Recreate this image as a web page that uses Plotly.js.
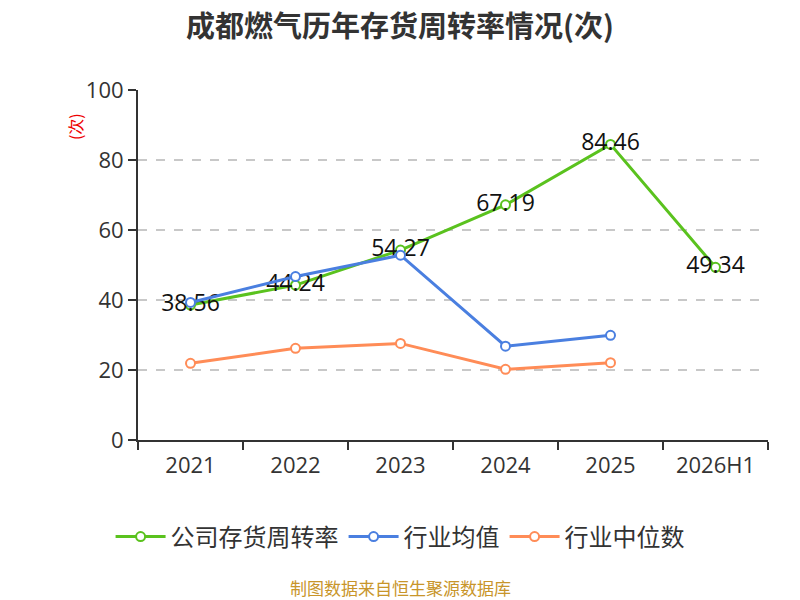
<!DOCTYPE html>
<html>
<head>
<meta charset="utf-8">
<script src="https://cdn.plot.ly/plotly-3.0.1.min.js"></script>
<style>
  html, body { margin: 0; padding: 0; background: #fff; }
  #chart { width: 800px; height: 600px; }
</style>
</head>
<body>
<div id="chart"></div>
<script>
// categories and values
var years = ["2021", "2022", "2023", "2024", "2025", "2026H1"];
var company = [38.56, 44.24, 54.27, 67.19, 84.46, 49.34];
var industryMean = [39.3, 46.7, 52.8, 26.8, 29.9, null];
var industryMedian = [21.9, 26.2, 27.6, 20.2, 22.1, null];
var yTicks = [0, 20, 40, 60, 80, 100];

var cjk = "'Noto Sans CJK SC', 'Noto Sans', sans-serif";
var num = "'Open Sans', 'Noto Sans CJK SC', sans-serif";

function series(name, y, color, withText) {
    var t = {
        x: years,
        y: y,
        name: name,
        type: "scatter",
        mode: withText ? "lines+markers+text" : "lines+markers",
        line: { color: color, width: 3 },
        marker: { symbol: "circle", size: 9, color: "#fff", line: { color: color, width: 2 } },
        hoverinfo: "skip",
        cliponaxis: false
    };
    if (withText) {
        t.text = y.map(function(v) { return v.toFixed(2); });
        t.textposition = "middle center";
        t.textfont = { family: num, size: 23, color: "#111" };
    }
    return t;
}

var data = [
    series("公司存货周转率", company, "#5ac21e", true),
    series("行业均值", industryMean, "#4a7fe0", false),
    series("行业中位数", industryMedian, "#ff8c57", false)
];

var layout = {
    width: 800,
    height: 600,
    margin: { l: 138, r: 32, t: 90, b: 160 },
    paper_bgcolor: "#fff",
    plot_bgcolor: "#fff",
    font: { family: cjk, color: "#333" },
    showlegend: true,
    title: {
        text: "<b>成都燃气历年存货周转率情况(次)</b>",
        font: { family: cjk, size: 29, color: "#333" },
        x: 0.5, xanchor: "center",
        y: 0.955, yanchor: "middle"
    },
    xaxis: {
        type: "category",
        range: [-0.5, 5.5],
        showline: true,
        linecolor: "#333",
        linewidth: 2,
        ticks: "outside",
        tickson: "boundaries",
        ticklen: 8,
        tickwidth: 2,
        tickcolor: "#333",
        ticklabelstandoff: 5,
        showgrid: false,
        zeroline: false,
        tickfont: { family: num, size: 22, color: "#333" }
    },
    yaxis: {
        range: [0, 100],
        tickvals: yTicks,
        showline: true,
        linecolor: "#333",
        linewidth: 2,
        ticks: "outside",
        ticklen: 8,
        tickwidth: 2,
        tickcolor: "#333",
        showgrid: true,
        gridcolor: "#c8c8c8",
        gridwidth: 1.5,
        griddash: "dash",
        zeroline: false,
        tickfont: { family: num, size: 22, color: "#333" }
    },
    legend: {
        orientation: "h",
        x: 0.416, xanchor: "center",
        y: -0.277, yanchor: "middle",
        font: { family: cjk, size: 24, color: "#333" },
        itemwidth: 50
    },
    annotations: [
        {
            text: "(次)",
            xref: "paper", yref: "paper",
            x: -0.1, y: 0.894,
            xanchor: "center", yanchor: "middle",
            showarrow: false,
            textangle: -90,
            font: { family: cjk, size: 16, color: "#e00" }
        },
        {
            text: "制图数据来自恒生聚源数据库",
            xref: "paper", yref: "paper",
            x: 0.416, y: -0.42,
            xanchor: "center", yanchor: "middle",
            showarrow: false,
            font: { family: cjk, size: 17, color: "#c8952a" }
        }
    ]
};

Plotly.newPlot("chart", data, layout, { displayModeBar: false, staticPlot: true });
</script>
</body>
</html>
